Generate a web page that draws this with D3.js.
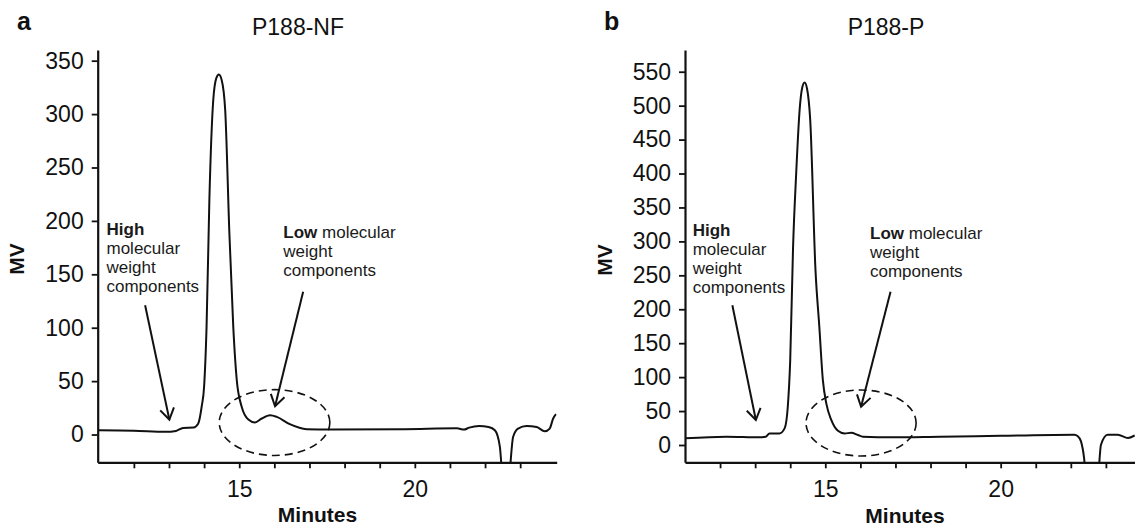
<!DOCTYPE html>
<html lang="en">
<head>
    <meta charset="UTF-8">
    <title>P188 chromatograms</title>
    <script src="https://d3js.org/d3.v7.min.js"></script>
    <style>
        body { margin: 0; background: #fff; font-family: "Liberation Sans", Arial, sans-serif; }
        .axis path, .axis line { stroke: #111; }
        .axis text { font-family: "Liberation Sans", Arial, sans-serif; fill: #111; }
    </style>
</head>
<body>
    <svg width="1135" height="528"></svg>

    <script>
        // Panel a: P188-NF (minutes, MV)
        const nfMinutes = [11.0, 12.0, 12.9, 13.2, 13.4, 13.7, 13.83, 13.93, 14.0, 14.07, 14.15, 14.26, 14.35, 14.42, 14.5, 14.6, 14.72, 14.83, 14.93, 15.07, 15.26, 15.45, 15.64, 15.88, 16.07, 16.44, 16.92, 17.6, 19.7, 21.2, 21.4, 21.55, 21.83, 22.1, 22.28, 22.42, 22.55, 22.62, 22.8, 22.94, 23.18, 23.47, 23.7, 23.84, 23.94, 24.02];
        const nfMV      = [4.0, 3.6, 2.5, 3.4, 6.2, 6.5, 10, 26, 45, 101, 220, 313, 334, 337, 332, 304, 188, 101, 51, 26, 14, 11.2, 15, 18, 16.5, 9.7, 5, 4.7, 5, 5.8, 4.6, 6.5, 8, 7, 4, -11, -60, -60, -2, 5.6, 8, 7, 3, 5.6, 15, 19];

        // Panel b: P188-P
        const pMinutes = [11.0, 12.18, 13.13, 13.3, 13.41, 13.69, 13.84, 13.93, 14.0, 14.08, 14.17, 14.27, 14.34, 14.41, 14.48, 14.57, 14.72, 14.83, 14.93, 15.03, 15.17, 15.36, 15.55, 15.74, 15.93, 16.07, 16.93, 18.27, 20.0, 22.1, 22.2, 22.29, 22.38, 22.45, 22.75, 22.86, 23.05, 23.34, 23.63, 23.82];
        const pMV      = [9.8, 12.3, 11.3, 12, 17, 17, 24.5, 56, 125, 290, 400, 495, 526, 534, 525, 479, 258, 174, 96, 61, 37, 21, 17, 18, 14.7, 12.3, 11.3, 12.3, 13.5, 15, 13, 5.3, -20, -60, -60, 0.3, 15, 15, 10.3, 14];

        const nfYTicks = d3.range(0, 351, 50);
        const pYTicks = d3.range(0, 551, 50);
        const minuteTicks = d3.range(12, 24);
        const labelledMinutes = [15, 20];

        const annotationLines = ["molecular", "weight", "components"];
        const lowLines = ["weight", "components"];

        const svg = d3.select("svg");

        function drawPanel(cfg) {
            const x = d3.scaleLinear().domain(cfg.xDomain).range(cfg.xRange);
            const y = d3.scaleLinear().domain(cfg.yDomain).range([462.3, 50]);
            const g = svg.append("g");

            const clipId = "clip-" + cfg.letter;
            svg.append("clipPath").attr("id", clipId)
                .append("rect")
                .attr("x", cfg.xRange[0]).attr("y", 50)
                .attr("width", cfg.xRange[1] - cfg.xRange[0]).attr("height", 412.3);

            // axes
            g.append("g")
                .attr("class", "axis")
                .attr("transform", `translate(0,${y.range()[0]})`)
                .call(d3.axisBottom(x).tickValues(minuteTicks).tickSize(6).tickSizeOuter(0).tickPadding(12)
                    .tickFormat(d => labelledMinutes.includes(d) ? d : ""))
                .call(a => a.select(".domain").attr("stroke-width", 2.2))
                .call(a => a.selectAll("line").attr("stroke-width", 1.8))
                .call(a => a.selectAll("text").attr("font-size", 23));

            g.append("g")
                .attr("class", "axis")
                .attr("transform", `translate(${cfg.xRange[0]},0)`)
                .call(d3.axisLeft(y).tickValues(cfg.yTicks).tickSize(6).tickSizeOuter(0).tickPadding(8))
                .call(a => a.select(".domain").attr("stroke-width", 2.2))
                .call(a => a.selectAll("line").attr("stroke-width", 1.8))
                .call(a => a.selectAll("text").attr("font-size", 23));

            // trace
            const line = d3.line()
                .x(d => x(d[0]))
                .y(d => y(d[1]))
                .curve(d3.curveMonotoneX);
            g.append("path")
                .datum(d3.zip(cfg.minutes, cfg.mv))
                .attr("clip-path", `url(#${clipId})`)
                .attr("fill", "none")
                .attr("stroke", "#111")
                .attr("stroke-width", 2)
                .attr("d", line);

            // dashed ellipse around low MW region
            const e = cfg.ellipse;
            g.append("ellipse")
                .attr("cx", (x(e[0]) + x(e[1])) / 2)
                .attr("cy", (y(e[2]) + y(e[3])) / 2)
                .attr("rx", (x(e[1]) - x(e[0])) / 2)
                .attr("ry", (y(e[3]) - y(e[2])) / 2)
                .attr("fill", "none")
                .attr("stroke", "#111")
                .attr("stroke-width", 1.6)
                .attr("stroke-dasharray", "8,5");

            // arrows
            cfg.arrows.forEach(ar => {
                const x1 = x(ar[0]), y1 = y(ar[1]), x2 = x(ar[2]), y2 = y(ar[3]);
                const ang = Math.atan2(y2 - y1, x2 - x1);
                const len = 13, spread = Math.PI / 5.5;
                g.append("line")
                    .attr("x1", x1).attr("y1", y1).attr("x2", x2).attr("y2", y2)
                    .attr("stroke", "#111").attr("stroke-width", 2);
                g.append("path")
                    .attr("d", `M${x2 - len * Math.cos(ang - spread)},${y2 - len * Math.sin(ang - spread)}L${x2},${y2}L${x2 - len * Math.cos(ang + spread)},${y2 - len * Math.sin(ang + spread)}`)
                    .attr("fill", "none").attr("stroke", "#111").attr("stroke-width", 2);
            });

            // annotation text
            const hi = g.append("text")
                .attr("x", cfg.highPos[0]).attr("y", cfg.highPos[1])
                .attr("font-size", 17).attr("fill", "#1a1a1a");
            hi.append("tspan").attr("font-weight", "bold").text("High");
            annotationLines.forEach(t => hi.append("tspan").attr("x", cfg.highPos[0]).attr("dy", 19).text(t));

            const lo = g.append("text")
                .attr("x", cfg.lowPos[0]).attr("y", cfg.lowPos[1])
                .attr("font-size", 17).attr("fill", "#1a1a1a");
            lo.append("tspan").attr("font-weight", "bold").text("Low");
            lo.append("tspan").text(" molecular");
            lowLines.forEach(t => lo.append("tspan").attr("x", cfg.lowPos[0]).attr("dy", 19).text(t));

            // labels
            g.append("text")
                .attr("x", cfg.titleX).attr("y", 35)
                .attr("text-anchor", "middle").attr("font-size", 23).attr("fill", "#111")
                .text(cfg.title);
            g.append("text")
                .attr("x", cfg.letterX).attr("y", 30)
                .attr("font-size", 25).attr("font-weight", "bold").attr("fill", "#111")
                .text(cfg.letter);
            g.append("text")
                .attr("x", cfg.minutesPos[0]).attr("y", cfg.minutesPos[1])
                .attr("text-anchor", "middle").attr("font-size", 21).attr("font-weight", "bold").attr("fill", "#111")
                .text("Minutes");
            g.append("text")
                .attr("transform", `translate(${cfg.mvPos[0]},${cfg.mvPos[1]}) rotate(-90)`)
                .attr("text-anchor", "middle").attr("font-size", 21).attr("font-weight", "bold").attr("fill", "#111")
                .text("MV");
        }

        drawPanel({
            letter: "a", letterX: 17, title: "P188-NF", titleX: 298,
            xDomain: [10.97, 24.04], xRange: [97.7, 556.7],
            yDomain: [-26, 360], yTicks: nfYTicks,
            minutes: nfMinutes, mv: nfMV,
            ellipse: [14.43, 17.58, 42, -19.6],
            arrows: [[12.32, 121, 13.01, 14], [16.82, 133.7, 16.02, 26.5]],
            highPos: [106.5, 235], lowPos: [283.3, 237.5],
            minutesPos: [317.5, 522], mvPos: [24, 259]
        });

        drawPanel({
            letter: "b", letterX: 604, title: "P188-P", titleX: 886,
            xDomain: [11, 23.83], xRange: [685, 1135],
            yDomain: [-25.5, 582], yTicks: pYTicks,
            minutes: pMinutes, mv: pMV,
            ellipse: [14.45, 17.59, 81, -16.2],
            arrows: [[12.35, 206, 13.02, 36.8], [16.86, 225.8, 16.02, 56.4]],
            highPos: [692.7, 235.5], lowPos: [870, 239],
            minutesPos: [905, 523], mvPos: [612, 260]
        });
    </script>
</body>
</html>
